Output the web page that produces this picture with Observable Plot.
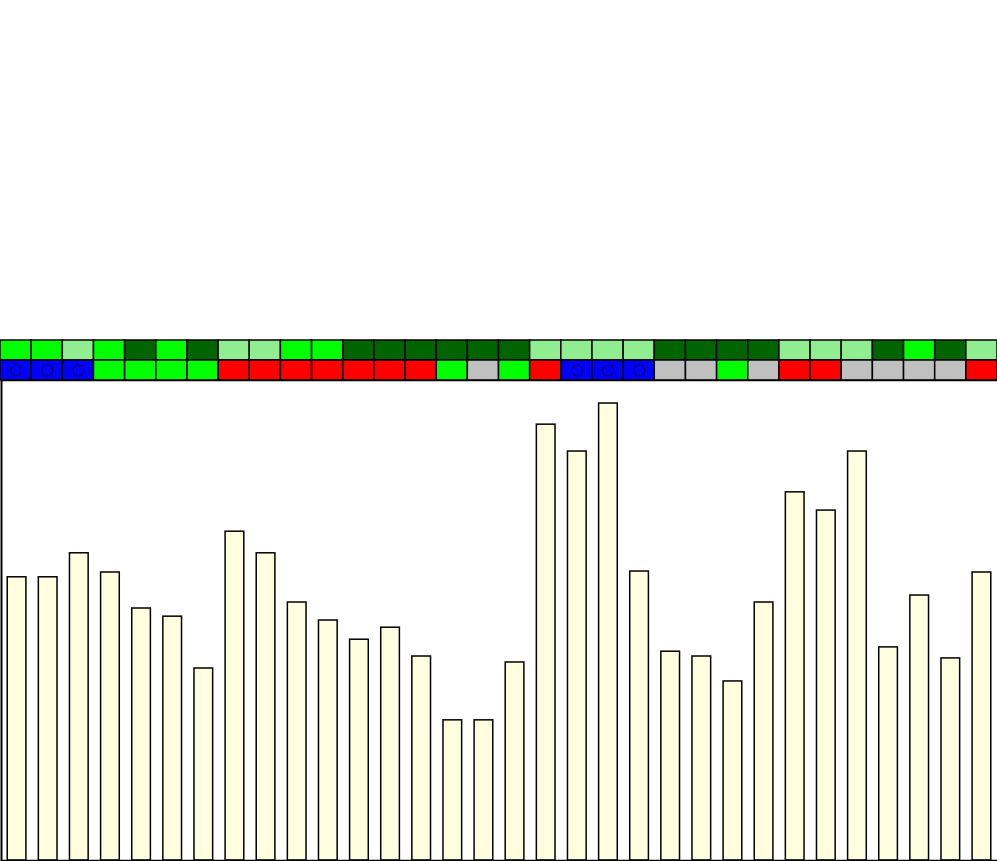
<!DOCTYPE html>
<html>
<head>
<meta charset="utf-8">
<script src="https://cdn.jsdelivr.net/npm/d3@7"></script>
<script src="https://cdn.jsdelivr.net/npm/@observablehq/plot@0.6"></script>
<style>
  html, body { margin: 0; padding: 0; background: #fff; }
  #spacer { height: 340px; }
  svg { display: block; overflow: visible; }
</style>
</head>
<body>
<div id="spacer"></div>
<div id="tiles"></div>
<div id="bars"></div>
<script>
// Column identifiers
const columns = d3.range(1, 33).map(String);

// Bar values (0–100 scale)
const values = [59.0, 59.0, 64.0, 60.0, 52.5, 50.8, 40.0, 68.5, 64.0, 53.75,
                50.0, 46.0, 48.5, 42.5, 29.2, 29.2, 41.25, 90.8, 85.2, 95.2,
                60.2, 43.5, 42.5, 37.3, 53.75, 76.7, 72.9, 85.2, 44.4, 55.2,
                42.1, 60.0];

// Top annotation row (shades of green)
const row1 = ["lime","lime","light","lime","dark","lime","dark","light","light","lime",
              "lime","dark","dark","dark","dark","dark","dark","light","light","light",
              "light","dark","dark","dark","dark","light","light","light","dark","lime",
              "dark","light"];

// Second annotation row
const row2 = ["blue","blue","blue","green","green","green","green","red","red","red",
              "red","red","red","red","green","gray","green","red","blue","blue",
              "blue","gray","gray","green","gray","red","red","gray","gray","gray",
              "gray","red"];

const tileCategories = ["lime","light","dark","blue","green","red","gray"];
const tileColors = ["#00ff00","#90ee90","#006400","#0000ff","#00ff00","#ff0000","#c0c0c0"];
const rowNames = ["row1","row2"];

const tileData = [
  ...columns.map((c, i) => ({col: c, row: "row1", cat: row1[i]})),
  ...columns.map((c, i) => ({col: c, row: "row2", cat: row2[i]}))
];
const barData = columns.map((c, i) => ({col: c, value: values[i]}));

const W = 997;

const tiles = Plot.plot({
  width: W,
  height: 40,
  margin: 0,
  x: {domain: columns, padding: 0, round: false, axis: null},
  y: {domain: rowNames, padding: 0, round: false, axis: null},
  color: {domain: tileCategories, range: tileColors},
  marks: [
    Plot.cell(tileData, {x: "col", y: "row", fill: "cat", stroke: "black", strokeWidth: 1.5, inset: 0}),
    Plot.dot(tileData.filter(d => d.cat === "blue"), {x: "col", y: "row", r: 5.5, stroke: "#000060", strokeWidth: 1.2, fill: "none"})
  ]
});
document.getElementById("tiles").appendChild(tiles);

const bars = Plot.plot({
  width: W,
  height: 481,
  marginTop: 0,
  marginBottom: 1,
  marginLeft: 1,
  marginRight: 0,
  x: {domain: columns, paddingInner: 0.4, paddingOuter: 0.2, round: false, axis: null},
  y: {domain: [0, 100], axis: null},
  marks: [
    Plot.barY(barData, {x: "col", y: "value", fill: "#ffffe0", stroke: "black", strokeWidth: 1.5}),
    Plot.frame({anchor: "top", stroke: "black", strokeWidth: 1.5}),
    Plot.frame({anchor: "left", stroke: "black", strokeWidth: 2}),
    Plot.frame({anchor: "bottom", stroke: "black", strokeWidth: 1.5})
  ]
});
document.getElementById("bars").appendChild(bars);
</script>
</body>
</html>
